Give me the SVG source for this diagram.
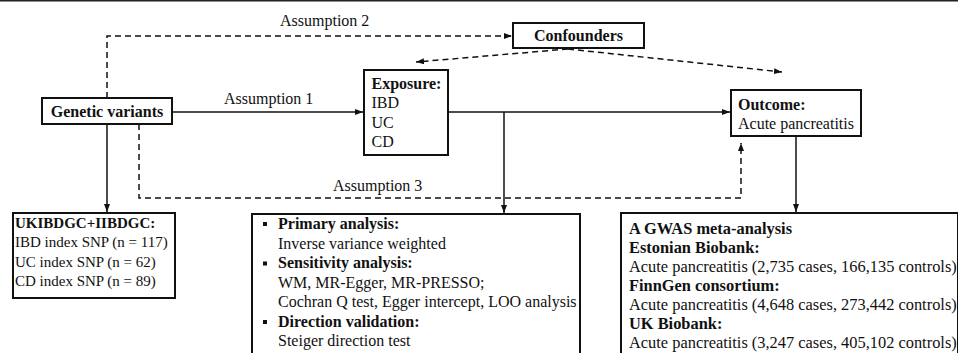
<svg xmlns="http://www.w3.org/2000/svg" width="958" height="353" viewBox="0 0 958 353">
<defs>
<marker id="arr" viewBox="0 0 8 6" refX="8" refY="3" markerWidth="8" markerHeight="6" markerUnits="userSpaceOnUse" orient="auto">
<path d="M0,0 L8,3 L0,6 z" fill="#111"/>
</marker>
<style>
.box{fill:#fff;stroke:#111;stroke-width:2}
.ln{fill:none;stroke:#111;stroke-width:1.5}
.dash{fill:none;stroke:#111;stroke-width:1.5;stroke-dasharray:6 4}
text{font-family:"Liberation Serif","Times New Roman",serif;font-size:16px;fill:#111}
.b{font-weight:bold}
.s15{font-size:15px}
.s164{font-size:16.4px}
.bul{fill:#111}
</style>
</defs>
<rect width="958" height="353" fill="#fff"/>
<line x1="0" y1="0.75" x2="958" y2="0.75" stroke="#222" stroke-width="1.5"/>

<g id="connectors">
<path class="dash" d="M107,98 V36 H512" marker-end="url(#arr)"/>
<path class="ln" d="M172,112 H363" marker-end="url(#arr)"/>
<path class="ln" d="M448,112 H730" marker-end="url(#arr)"/>
<path class="ln" d="M504,112 V213" marker-end="url(#arr)"/>
<path class="ln" d="M796,136 V212" marker-end="url(#arr)"/>
<path class="ln" d="M107,124 V212" marker-end="url(#arr)"/>
<path class="dash" d="M139,124 V198 H741 V143" marker-end="url(#arr)"/>
<path class="dash" d="M568,49 L416,62" marker-end="url(#arr)"/>
<path class="dash" d="M568,49 L782,72" marker-end="url(#arr)"/>
<text x="280" y="26">Assumption 2</text>
<text x="224" y="104">Assumption 1</text>
<text x="333" y="191">Assumption 3</text>
</g>

<g id="genetic">
<rect class="box" x="42" y="98" width="130" height="26"/>
<text class="b" x="107" y="117" text-anchor="middle">Genetic variants</text>
</g>

<g id="confounders">
<rect class="box" x="513" y="23" width="131" height="25"/>
<text class="b" x="578.5" y="41" text-anchor="middle">Confounders</text>
</g>

<g id="exposure">
<rect class="box" x="364" y="70" width="84" height="85"/>
<text class="b" x="371.5" y="89">Exposure:</text>
<text x="371.5" y="108">IBD</text>
<text x="371.5" y="127.5">UC</text>
<text x="371.5" y="147">CD</text>
</g>

<g id="outcome">
<rect class="box" x="731" y="90" width="130" height="46"/>
<text class="b" x="738" y="110">Outcome:</text>
<text x="738" y="129">Acute pancreatitis</text>
</g>

<g id="gwas-ibd">
<rect class="box" x="13" y="213" width="162" height="85"/>
<text x="15" y="227.5" class="b s15">UKIBDGC+IIBDGC:</text>
<text x="15" y="247" class="s15">IBD index SNP (n = 117)</text>
<text x="15" y="266.5" class="s15">UC index SNP (n = 62)</text>
<text x="15" y="286" class="s15">CD index SNP (n = 89)</text>
</g>

<g id="methods">
<rect class="box" x="252" y="214" width="328" height="150"/>
<rect class="bul" x="263" y="222" width="4" height="4"/>
<text class="b" x="278" y="229">Primary analysis:</text>
<text x="278" y="248.5">Inverse variance weighted</text>
<rect class="bul" x="263" y="261.5" width="4" height="4"/>
<text class="b" x="278" y="268">Sensitivity analysis:</text>
<text x="278" y="287.5">WM, MR-Egger, MR-PRESSO;</text>
<text x="278" y="307">Cochran Q test, Egger intercept, LOO analysis</text>
<rect class="bul" x="263" y="320" width="4" height="4"/>
<text class="b" x="278" y="326.5">Direction validation:</text>
<text x="278" y="346">Steiger direction test</text>
</g>

<g id="outcome-data">
<rect class="box" x="621" y="213" width="337" height="150"/>
<text class="b s164" x="629" y="234">A GWAS meta-analysis</text>
<text class="b s164" x="629" y="253">Estonian Biobank:</text>
<text class="s164" x="629" y="272">Acute pancreatitis (2,735 cases, 166,135 controls)</text>
<text class="b s164" x="629" y="291">FinnGen consortium:</text>
<text class="s164" x="629" y="310">Acute pancreatitis (4,648 cases, 273,442 controls)</text>
<text class="b s164" x="629" y="329">UK Biobank:</text>
<text class="s164" x="629" y="348">Acute pancreatitis (3,247 cases, 405,102 controls)</text>
</g>
</svg>
